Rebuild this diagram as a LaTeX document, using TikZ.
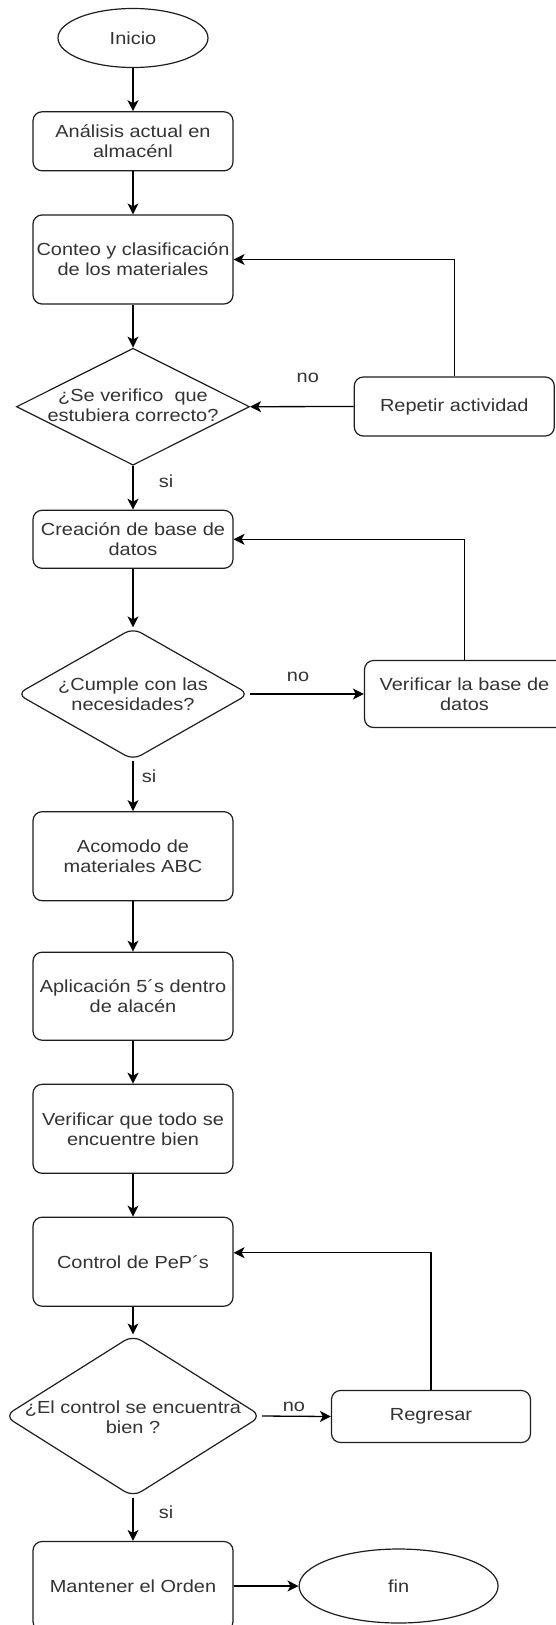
\documentclass[tikz,border=0pt]{standalone}
\usepackage{fontspec}
\setmainfont{Liberation Sans}[FakeStretch=1.14]
\usetikzlibrary{shapes.geometric,arrows.meta,calc}
\definecolor{linec}{HTML}{1E1E1E}
\definecolor{textc}{HTML}{333333}
\tikzset{
  txt/.style={text=textc, font=\fontsize{17.5}{20}\selectfont, align=center, inner sep=0pt},
  box/.style={txt, draw=linec, line width=1.2pt, rounded corners=9pt, minimum width=200pt},
  term/.style={txt, ellipse, draw=linec, line width=1.2pt},
  dec/.style={diamond, draw=linec, line width=1.2pt, inner sep=0pt},
  arr/.style={draw=black, line width=1.3pt, -{Stealth[length=11pt,width=11pt,inset=3pt]}},
  lbl/.style={txt}
}
\begin{document}
\begin{tikzpicture}[x=1pt,y=-1pt]
\useasboundingbox (0,0) rectangle (556,1625);
\clip (0,0) rectangle (556,1625);
\fill[white] (0,0) rectangle (556,1625);

% main column
\node[term, minimum width=150pt, minimum height=59pt] (inicio) at (133,38) {Inicio};
\node[box, minimum height=59pt] (a1) at (133,141.3) {Análisis actual en\\almacénl};
\node[box, minimum height=89pt] (a2) at (133,259.5) {Conteo y clasificación\\de los materiales};
\node[dec, minimum width=233pt, minimum height=117pt] (d1) at (133,406.7) {};
\node[txt] (d1t) at (133,405) {¿Se verifico \ que\\estubiera correcto?};
\node[box, minimum height=59pt] (rep) at (454.3,406.5) {Repetir actividad};
\node[box, minimum height=58pt] (a3) at (133,539.3) {Creación de base de\\datos};
\node[dec, rounded corners=9pt, minimum width=232pt, minimum height=132pt] (d2) at (133,694) {};
\node[txt] (d2t) at (133,694.5) {¿Cumple con las\\necesidades?};
\node[box, minimum height=67pt] (ver) at (464.5,694) {Verificar la base de\\datos};
\node[box, minimum height=89pt] (a4) at (133,856.2) {Acomodo de\\materiales ABC};
\node[box, minimum height=88pt] (a5) at (133,996.2) {Aplicación 5´s dentro\\de alacén};
\node[box, minimum height=89pt] (a6) at (133,1128.8) {Verificar que todo se\\encuentre bien};
\node[box, minimum height=89pt] (a7) at (133,1261.7) {Control de PeP´s};
\node[dec, rounded corners=10pt, minimum width=257pt, minimum height=162pt] (d3) at (133,1416) {};
\node[txt] (d3t) at (133,1417) {¿El control se encuentra\\bien ?};
\node[box, minimum width=199pt, minimum height=52pt] (reg) at (431,1416.5) {Regresar};
\node[box, minimum height=89pt] (ma) at (133,1586) {Mantener el Orden};
\node[term, minimum width=199pt, minimum height=74pt] (fin) at (398.6,1586) {fin};

% connectors
\draw[arr] (inicio) -- (a1);
\draw[arr] (a1) -- (a2);
\draw[arr] (a2) -- (d1);
\draw[arr] (d1) -- (a3);
\draw[arr] (rep.west) -- (d1.east);
\draw[arr] (rep.north) |- (a2.east);
\draw[arr] (a3) -- (d2);
\draw[arr] (d2.east) -- (ver.west);
\draw[arr] (ver.north) |- (a3.east);
\draw[arr] (d2) -- (a4);
\draw[arr] (a4) -- (a5);
\draw[arr] (a5) -- (a6);
\draw[arr] (a6) -- (a7);
\draw[arr] (a7) -- (d3);
\draw[arr] (d3.east) -- (reg.west);
\coordinate (a7in) at ($(a7.east)+(0,-9)$);
\draw[arr] (reg.north) |- (a7in);
\draw[arr] (d3) -- (ma);
\draw[arr] (ma.east) -- (fin.west);

% branch labels
\node[lbl] (no1) at (307.8,378) {no};
\node[lbl] (si1) at (166,481.7) {si};
\node[lbl] (no2) at (298,676.7) {no};
\node[lbl] (si2) at (149,776) {si};
\node[lbl] (no3) at (294,1406.7) {no};
\node[lbl] (si3) at (166,1512.7) {si};
\end{tikzpicture}
\end{document}
